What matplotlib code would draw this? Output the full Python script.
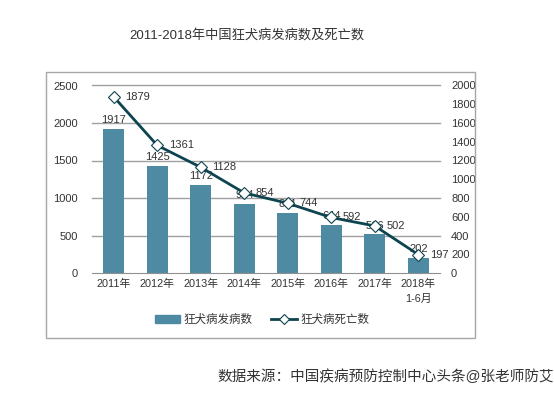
import matplotlib
matplotlib.use("Agg")
import matplotlib.pyplot as plt
from matplotlib.patches import Rectangle
from matplotlib.lines import Line2D

plt.rcParams['font.family'] = ['Liberation Sans', 'Noto Sans CJK SC', 'DejaVu Sans']

categories = ["2011年", "2012年", "2013年", "2014年", "2015年", "2016年", "2017年", "2018年\n1-6月"]
cases = [1917, 1425, 1172, 924, 801, 644, 516, 202]
deaths = [1879, 1361, 1128, 854, 744, 592, 502, 197]
left_ticks = [0, 500, 1000, 1500, 2000, 2500]
right_ticks = [0, 200, 400, 600, 800, 1000, 1200, 1400, 1600, 1800, 2000]

W, H = 554, 396
fig = plt.figure(figsize=(W / 100, H / 100), dpi=100)
fig.patch.set_facecolor('white')

# outer frame
fig.patches.append(Rectangle((46 / W, 1 - 338 / H), (475 - 46) / W, (338 - 72) / H,
                             transform=fig.transFigure, fill=False, edgecolor='#a6a6a6', lw=1.0))

ax = fig.add_axes([92 / W, 1 - 273 / H, (440 - 92) / W, (273 - 85.5) / H])
ax2 = ax.twinx()

bar_color = '#4f8aa3'
line_color = '#0d4450'
txt = '#333333'
x = list(range(len(categories)))

ax.bar(x, cases, width=0.48, color=bar_color, zorder=2)
ax.set_ylim(0, 2500)
ax.set_xlim(-0.5, len(categories) - 0.5)
ax.set_yticks(left_ticks)
for t in left_ticks[1:]:
    ax.axhline(t, color='#a0a0a0', lw=1.0, zorder=0, clip_on=False)
for s in ['top', 'right', 'left']:
    ax.spines[s].set_visible(False)
ax.spines['bottom'].set_color('#909090')
ax.tick_params(axis='y', length=0, labelsize=8, pad=10, labelcolor=txt)
ax.tick_params(axis='x', length=0, labelsize=7.8, pad=4, labelcolor=txt)
ax.set_xticks(x)
ax.set_xticklabels(categories, linespacing=1.6)

for xi, v in zip(x, cases):
    ax.text(xi, v + 50, str(v), ha='center', va='bottom', fontsize=8, color=txt, zorder=5)

ax2.plot(x, deaths, color=line_color, lw=2, marker='D', markersize=6.5,
         markerfacecolor='white', markeredgecolor=line_color, markeredgewidth=0.8, zorder=4)
ax2.set_ylim(0, 2000)
ax2.set_yticks(right_ticks)
for s in ['top', 'right', 'left', 'bottom']:
    ax2.spines[s].set_visible(False)
ax2.tick_params(axis='y', length=0, labelsize=8, pad=8, labelcolor=txt)
for xi, v in zip(x, deaths):
    ax2.text(xi + 0.27, v, str(v), ha='left', va='center', fontsize=8, color=txt, zorder=5)

ax.set_zorder(ax2.get_zorder() - 1)
ax.patch.set_visible(False)

# legend
handles = [Rectangle((0, 0), 1, 1, color=bar_color),
           Line2D([0], [0], color=line_color, lw=2, marker='D', markersize=5,
                  markerfacecolor='white', markeredgecolor=line_color, markeredgewidth=0.8)]
fig.legend(handles, ["狂犬病发病数", "狂犬病死亡数"], loc='center', bbox_to_anchor=(262 / W, 1 - 320 / H),
           ncol=2, frameon=False, fontsize=8.3, handlelength=2.2, handletextpad=0.3, columnspacing=1.6,
           labelcolor=txt)

fig.text(247 / W, 1 - 35 / H, "2011-2018年中国狂犬病发病数及死亡数", ha='center', va='center',
         fontsize=9.5, color=txt)
fig.text(217 / W, 1 - 377 / H, "数据来源：中国疾病预防控制中心头条@张老师防艾", ha='left', va='center',
         fontsize=10.5, color=txt)

fig.savefig("out.png", dpi=100)
